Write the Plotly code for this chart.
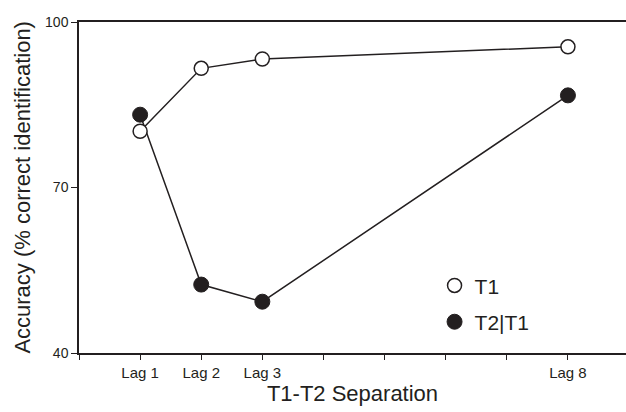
import plotly.graph_objects as go

lags = [1, 2, 3, 8]
t1 = [80.2, 91.6, 93.3, 95.5]
t2_given_t1 = [83.2, 52.4, 49.3, 86.7]
x_tick_vals = [0, 1, 2, 3, 4, 5, 6, 7, 8]
x_tick_text = ["", "Lag 1", "Lag 2", "Lag 3", "", "", "", "", "Lag 8"]
y_tick_vals = [40, 70, 100]

ink = "#231f20"
font_family = "Liberation Sans, Arial, sans-serif"

fig = go.Figure()
fig.add_trace(go.Scatter(
    x=lags, y=t2_given_t1, name="T2|T1", mode="lines+markers",
    line=dict(color=ink, width=1.5),
    marker=dict(symbol="circle", size=15, color=ink, line=dict(color=ink, width=1)),
    showlegend=False,
))
fig.add_trace(go.Scatter(
    x=lags, y=t1, name="T1", mode="lines+markers",
    line=dict(color=ink, width=1.5),
    marker=dict(symbol="circle", size=14, color="white", line=dict(color=ink, width=1.5)),
    showlegend=False,
))
# legend entries (markers only, as in the reference key)
fig.add_trace(go.Scatter(
    x=[None], y=[None], name="T1", mode="markers",
    marker=dict(symbol="circle", size=14, color="white", line=dict(color=ink, width=1.5)),
    legendgroup="a", legendrank=1,
))
fig.add_trace(go.Scatter(
    x=[None], y=[None], name="T2|T1", mode="markers",
    marker=dict(symbol="circle", size=15, color=ink, line=dict(color=ink, width=1)),
    legendgroup="b", legendrank=2,
))

fig.update_layout(
    width=626, height=412,
    margin=dict(l=79, r=0, t=22, b=59),
    paper_bgcolor="white", plot_bgcolor="white",
    font=dict(family=font_family, color=ink),
    showlegend=True,
    legend=dict(x=0.65, y=0.265, xanchor="left", yanchor="top",
                font=dict(size=21, color=ink), tracegroupgap=6,
                bgcolor="rgba(0,0,0,0)"),
    xaxis=dict(
        range=[0, 8.95], tickmode="array", tickvals=x_tick_vals, ticktext=x_tick_text,
        showgrid=False, zeroline=False, showline=True, linecolor=ink, linewidth=1.5,
        ticks="outside", ticklen=5, tickwidth=1, tickcolor=ink, mirror=True,
        tickfont=dict(size=15, color=ink),
        title=dict(text="T1-T2 Separation", font=dict(size=22, color=ink), standoff=5),
    ),
    yaxis=dict(
        range=[40, 100], tickmode="array", tickvals=y_tick_vals,
        showgrid=False, zeroline=False, showline=True, linecolor=ink, linewidth=1.5,
        ticks="outside", ticklen=6, tickwidth=1, tickcolor=ink,
        tickfont=dict(size=14, color=ink),
    ),
    xaxis2=dict(overlaying="x", range=[0, 8.95], tickmode="array", tickvals=x_tick_vals,
                ticktext=[""] * len(x_tick_vals), ticks="inside", ticklen=5, tickwidth=1,
                tickcolor=ink, showline=False, showgrid=False, zeroline=False, side="bottom",
                anchor="y"),
    yaxis2=dict(overlaying="y", range=[40, 100], tickmode="array", tickvals=y_tick_vals,
                ticktext=[""] * len(y_tick_vals), ticks="inside", ticklen=5, tickwidth=1,
                tickcolor=ink, showline=False, showgrid=False, zeroline=False, side="left",
                anchor="x"),
    annotations=[dict(
        text="Accuracy (% correct identification)", textangle=-90,
        xref="paper", yref="paper", x=-0.104, y=0.5, xanchor="center", yanchor="middle",
        showarrow=False, font=dict(size=22, color=ink),
    )],
)

fig.write_html("out.html")
